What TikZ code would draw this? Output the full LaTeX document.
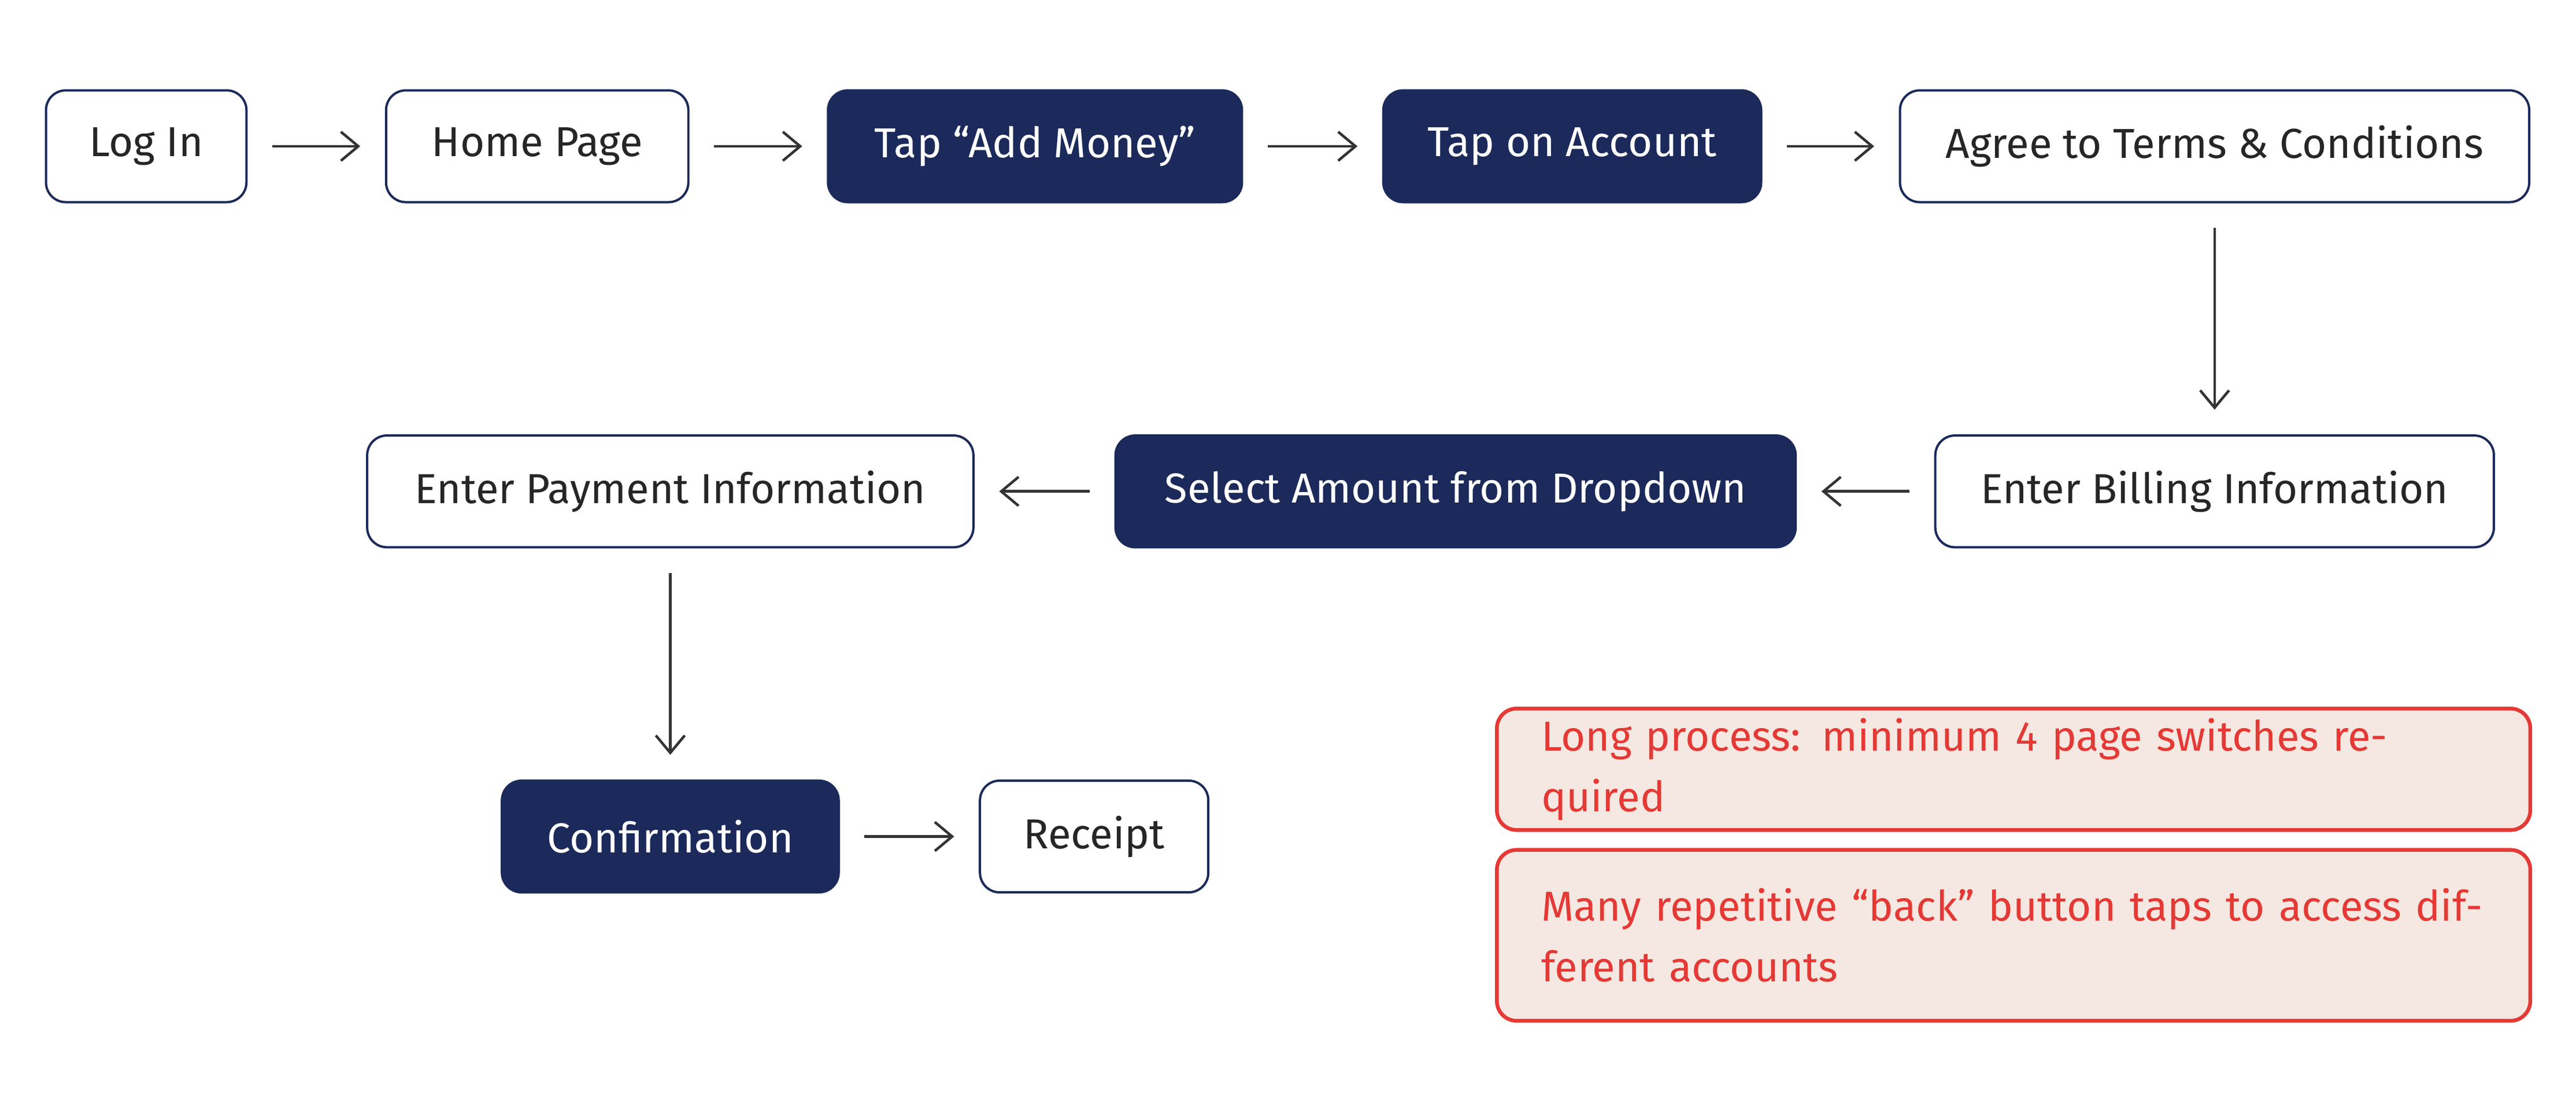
\documentclass[tikz,border=0pt]{standalone}
\usepackage{fontspec}
\setmainfont{Fira Sans}
\usetikzlibrary{arrows.meta, positioning}
\definecolor{navy}{HTML}{1B2A5A}
\definecolor{alertred}{HTML}{E53935}
\definecolor{alertfill}{HTML}{F5E7E1}
\tikzset{
    stepbox/.style={rectangle, rounded corners=0.24cm, draw=navy, line width=0.8pt,
        minimum height=1.36cm, text=black!85, font=\fontsize{14.5}{17}\selectfont, align=center},
    keybox/.style={stepbox, fill=navy, text=white},
    notebox/.style={rectangle, rounded corners=0.24cm, draw=alertred, line width=1.3pt,
        fill=alertfill, text=alertred, font=\fontsize{14.5}{21}\selectfont, align=left,
        text width=11.5cm, inner xsep=0.54cm, anchor=north west},
    arrow/.style={draw=black!80, line width=0.9pt, -{Straight Barb[length=6pt, width=10pt]},
        shorten <=0.3cm, shorten >=0.3cm}
}
\begin{document}
\begin{tikzpicture}
    \useasboundingbox (0,0) rectangle (31.36,-13.48);
    % top row
    \node[stepbox, minimum width=2.44cm] (login) at (1.78,-1.78) {Log In};
    \node[stepbox, minimum width=3.68cm] (home) at (6.54,-1.78) {Home Page};
    \node[keybox, minimum width=5.04cm] (addMoney) at (12.6,-1.78) {Tap “Add Money”};
    \node[keybox, minimum width=4.6cm] (account) at (19.14,-1.78) {Tap on Account};
    \node[stepbox, minimum width=7.66cm] (terms) at (26.96,-1.78) {Agree to Terms \& Conditions};
    % middle row
    \node[stepbox, minimum width=6.8cm] (billing) at (26.96,-5.98) {Enter Billing Information};
    \node[keybox, minimum width=8.28cm] (amount) at (17.72,-5.98) {Select Amount from Dropdown};
    \node[stepbox, minimum width=7.38cm] (payment) at (8.16,-5.98) {Enter Payment Information};
    % bottom row
    \node[keybox, minimum width=4.1cm] (confirm) at (8.16,-10.18) {Confirmation};
    \node[stepbox, minimum width=2.78cm] (receipt) at (13.32,-10.18) {Receipt};

    % notes
    \node[notebox, minimum height=1.38cm] (noteLong) at (18.2,-8.6)
        {Long process: minimum 4 page switches required};
    \node[notebox, minimum height=2.08cm] (noteBack) at (18.2,-10.32)
        {Many repetitive “back” button taps to access different accounts};

    \path[arrow] (login) -- (home);
    \path[arrow] (home) -- (addMoney);
    \path[arrow] (addMoney) -- (account);
    \path[arrow] (account) -- (terms);
    \path[arrow] (terms) -- (billing);
    \path[arrow] (billing) -- (amount);
    \path[arrow] (amount) -- (payment);
    \path[arrow] (payment) -- (confirm);
    \path[arrow] (confirm) -- (receipt);
\end{tikzpicture}
\end{document}
